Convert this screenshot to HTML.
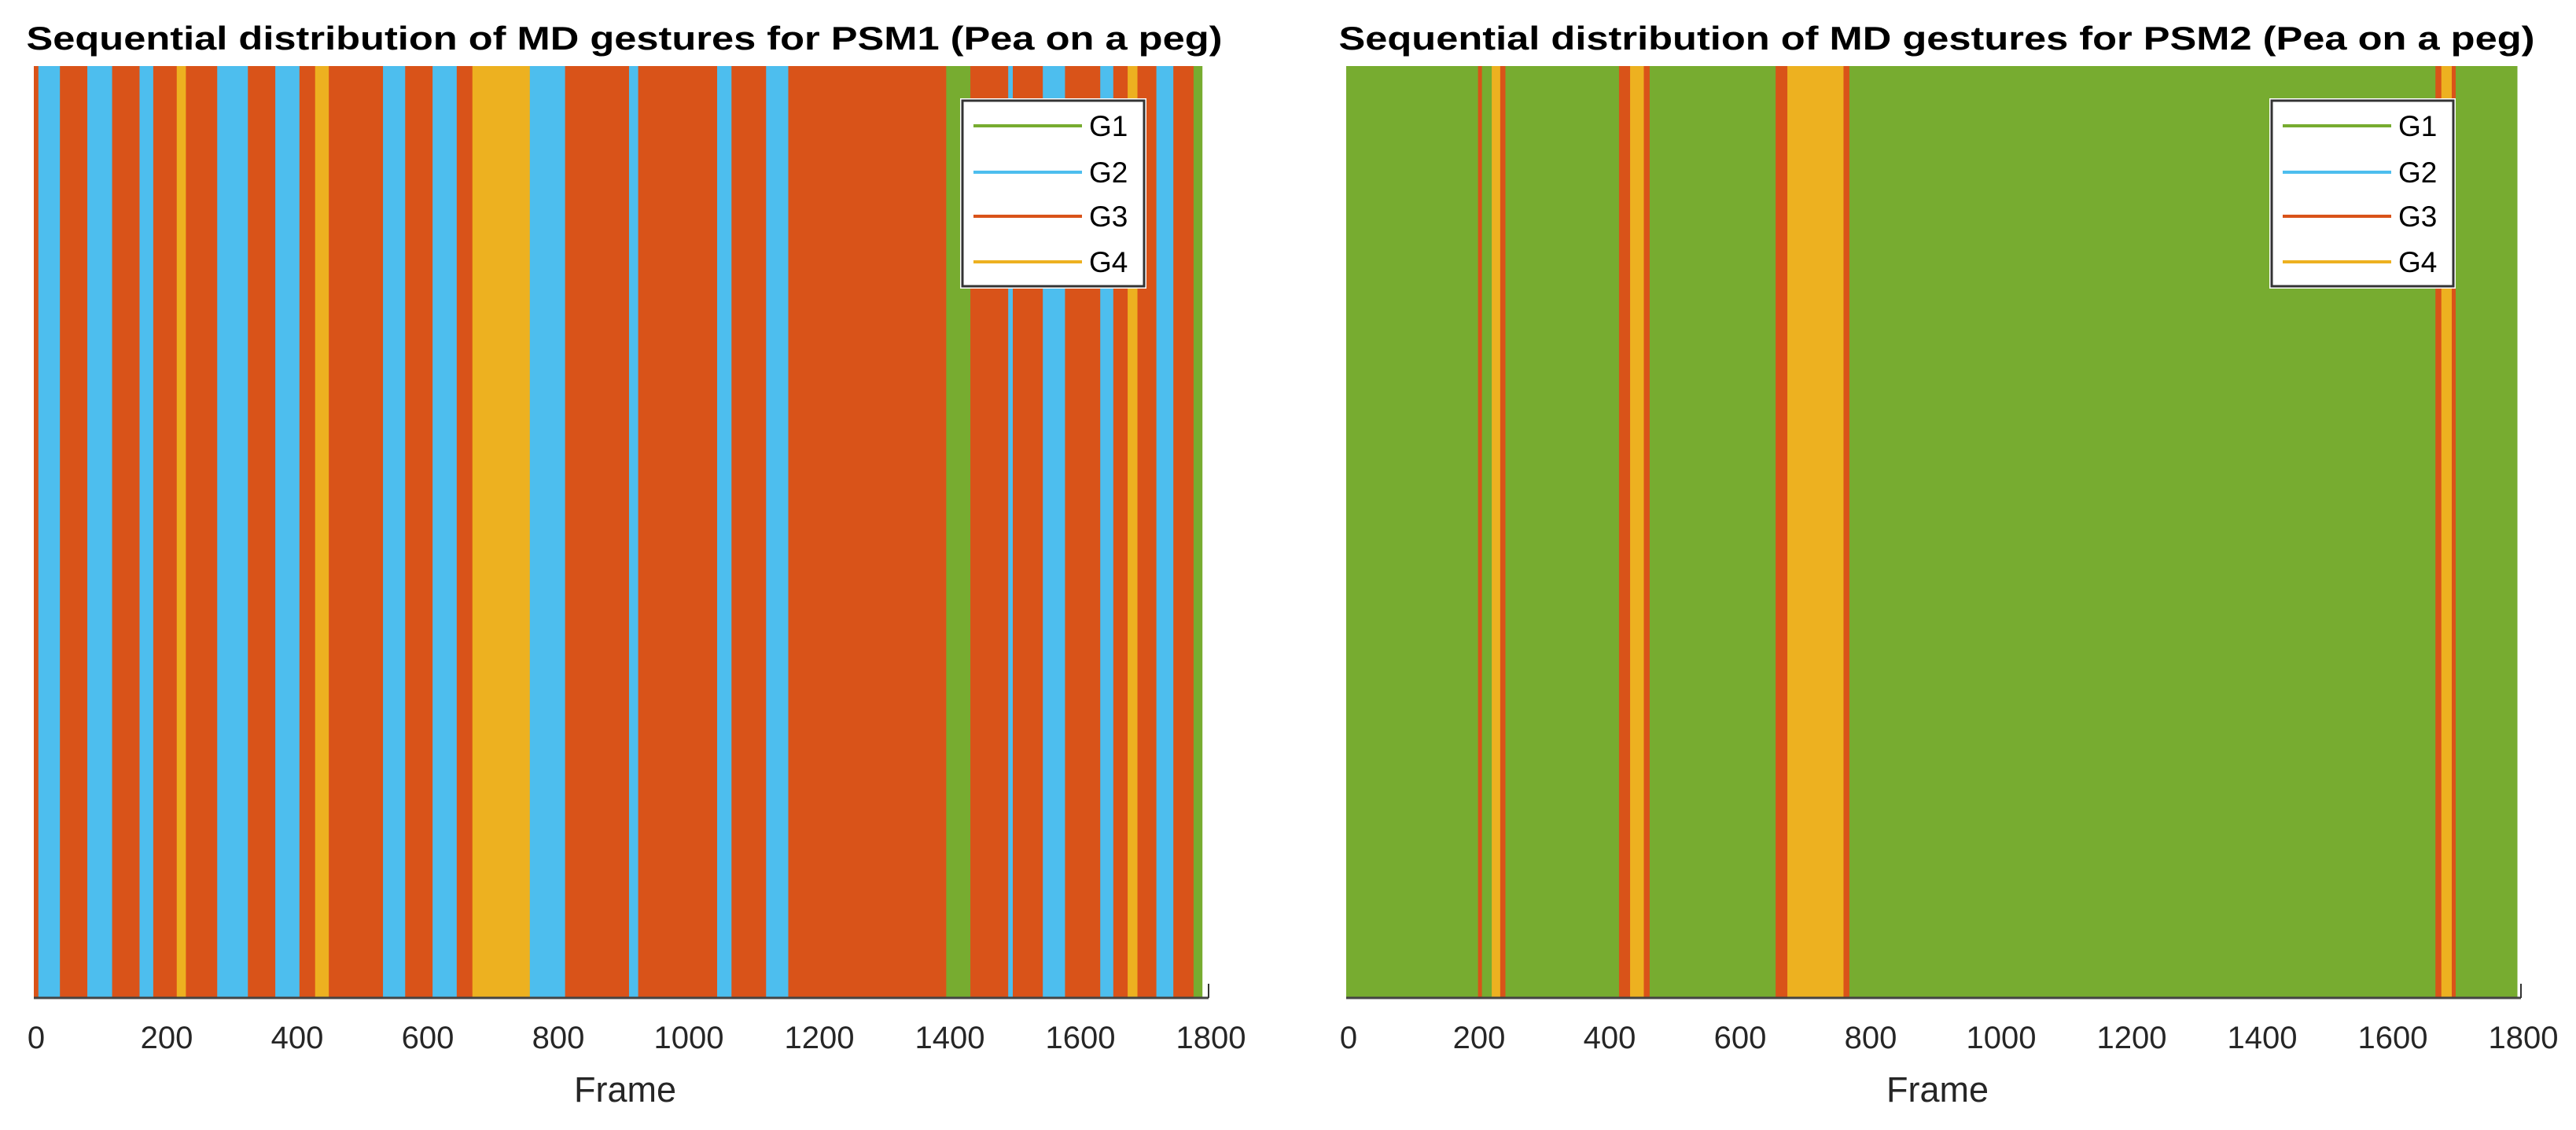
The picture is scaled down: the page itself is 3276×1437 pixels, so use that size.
<!DOCTYPE html>
<html><head><meta charset="utf-8"><style>
html,body{margin:0;padding:0;background:#fff;}
svg{display:block;font-family:"Liberation Sans",Arial,sans-serif;}
</style></head><body>
<svg id="chart" width="3276" height="1437" viewBox="0 0 3276 1437" xmlns="http://www.w3.org/2000/svg"></svg>
<script>
// Data
const gestureNames = ["G1","G2","G3","G4"];
const gestureColors = ["#77AC30","#4DBEEE","#D95319","#EDB120"];
const xTicks = [0,200,400,600,800,1000,1200,1400,1600,1800];
// PSM1 segments: boundaries (frames) and gesture index (1-based)
const psm1Bounds = [0,7,40,82,120,162,183,219,233,281,328,370,407,431,452,535,569,611,648,672,760,814,912,926,1047,1069,1122,1156,1398,1435,1493,1500,1546,1580,1634,1654,1676,1691,1720,1746,1777,1790];
const psm1Gest   = [3,2,3,2,3,2,3,4,3,2,3,2,3,4,3,2,3,2,3,4,2,3,2,3,2,3,2,3,1,3,2,3,2,3,2,3,4,3,2,3,1];
const psm2Bounds = [0,202,208,223,236,244,418,435,456,465,658,676,762,771,1669,1678,1694,1700,1794];
const psm2Gest   = [1,3,1,4,3,1,3,4,3,1,3,4,3,1,3,4,3,1];

const NS="http://www.w3.org/2000/svg";
const svg=document.getElementById('chart');
function mk(tag,attrs,parent){const e=document.createElementNS(NS,tag);for(const k in attrs)e.setAttribute(k,attrs[k]);(parent||svg).appendChild(e);return e;}

const plotTop=84,plotBottom=1269;
function drawPlot(x0,x1,bounds,gest,title,name,legX){
  const g=mk('g',{});
  
  
  const xs=v=>x0+(v/1800)*(x1-x0);
  const t=mk('text',{x:(x0+x1)/2+4,y:63,'text-anchor':'middle','font-size':42,'font-weight':'bold',fill:'#000',textLength:1521,lengthAdjust:'spacingAndGlyphs'},g);
  t.textContent=title;
  
  
  for(let i=0;i<gest.length;i++){
    const r=mk('rect',{x:xs(bounds[i]),y:plotTop,width:Math.max(0,xs(bounds[i+1])-xs(bounds[i]))+0.5,height:plotBottom-plotTop,fill:gestureColors[gest[i]-1]},g);
    
    
  }
  const ax=mk('line',{x1:x0,y1:plotBottom,x2:x1,y2:plotBottom,stroke:'#444',"stroke-width":3},g);
  
  
  mk('line',{x1:x1,y1:plotBottom-18,x2:x1,y2:plotBottom,stroke:'#333',"stroke-width":2},g);
  xTicks.forEach(v=>{
    const tl=mk('text',{x:xs(v)+3,y:1333,'text-anchor':'middle','font-size':40,fill:'#262626'},g);
    tl.textContent=v;
    
    
  });
  const xl=mk('text',{x:(x0+x1)/2+5,y:1401,'text-anchor':'middle','font-size':45,fill:'#262626'},g);
  xl.textContent='Frame';
  
  
  const lg=mk('g',{},g);
  
  
  mk('rect',{x:legX-3,y:125,width:237,height:242,fill:'#fff'},lg);
  mk('rect',{x:legX,y:128,width:231,height:236,fill:'#fff',stroke:'#333','stroke-width':3},lg);
  const ys=[160,219,275,333];
  gestureNames.forEach((n,i)=>{
    const e=mk('g',{},lg);
    
    
    mk('line',{x1:legX+14,y1:ys[i],x2:legX+152,y2:ys[i],stroke:gestureColors[i],'stroke-width':4},e);
    const tx=mk('text',{x:legX+161,y:ys[i]+13,'font-size':37,fill:'#000'},e);
    tx.textContent=n;
  });
}
drawPlot(43,1537,psm1Bounds,psm1Gest,"Sequential distribution of MD gestures for PSM1 (Pea on a peg)","psm1-chart",1224);
drawPlot(1712,3206,psm2Bounds,psm2Gest,"Sequential distribution of MD gestures for PSM2 (Pea on a peg)","psm2-chart",2889);
</script>
</body></html>
